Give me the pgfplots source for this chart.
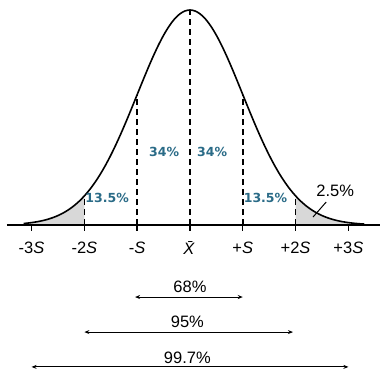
\documentclass[border=0pt]{standalone}
\usepackage{fontspec}
\setmainfont{Liberation Sans}
\newfontfamily\tealfont{DejaVu Sans}
\usepackage{pgfplots}
\pgfplotsset{compat=1.18}
\usetikzlibrary{arrows.meta}
\definecolor{teal1}{HTML}{2A6B87}
\definecolor{shade}{HTML}{D8D8D8}
\begin{document}
\begin{tikzpicture}
\begin{axis}[
  scale only axis, width=389pt, height=378pt,
  xmin=-3.598, xmax=3.769, ymin=-0.7116, ymax=1.0465,
  hide axis, clip=false,
]
\path (rel axis cs:0,0) rectangle (rel axis cs:1,1);
% shaded tails
\addplot[fill=shade, draw=none] coordinates {
(-3.15,0) (-3.15,0.0070) (-3.1,0.00819) (-3.0,0.01111) (-2.9,0.01492) (-2.8,0.01984) (-2.7,0.02612)
(-2.6,0.03405) (-2.5,0.04394) (-2.4,0.05613) (-2.3,0.07101) (-2.2,0.08892) (-2.1,0.11025) (-2.0,0.13534) (-2.0,0)
} -- cycle;
\addplot[fill=shade, draw=none] coordinates {
(2.0,0) (2.0,0.13534) (2.1,0.11025) (2.2,0.08892) (2.3,0.07101) (2.4,0.05613) (2.5,0.04394) (2.6,0.03405)
(2.7,0.02612) (2.8,0.01984) (2.9,0.01492) (3.0,0.01111) (3.1,0.00819) (3.2,0.00598) (3.3,0.00432) (3.3,0)
} -- cycle;
% curve
\addplot[black, line width=1.6pt, smooth] coordinates {
(-3.15,0.0070) (-3.1,0.00819) (-3.0,0.01111) (-2.9,0.01492) (-2.8,0.01984) (-2.7,0.02612) (-2.6,0.03405)
(-2.5,0.04394) (-2.4,0.05613) (-2.3,0.07101) (-2.2,0.08892) (-2.1,0.11025) (-2.0,0.13534) (-1.9,0.16447)
(-1.8,0.19790) (-1.7,0.23575) (-1.6,0.27804) (-1.5,0.32465) (-1.4,0.37531) (-1.3,0.42956) (-1.2,0.48675)
(-1.1,0.54607) (-1.0,0.60653) (-0.9,0.66698) (-0.8,0.72615) (-0.7,0.78270) (-0.6,0.83527) (-0.5,0.88250)
(-0.4,0.92312) (-0.3,0.95600) (-0.2,0.98020) (-0.1,0.99501) (0,1) (0.1,0.99501) (0.2,0.98020) (0.3,0.95600)
(0.4,0.92312) (0.5,0.88250) (0.6,0.83527) (0.7,0.78270) (0.8,0.72615) (0.9,0.66698) (1.0,0.60653)
(1.1,0.54607) (1.2,0.48675) (1.3,0.42956) (1.4,0.37531) (1.5,0.32465) (1.6,0.27804) (1.7,0.23575)
(1.8,0.19790) (1.9,0.16447) (2.0,0.13534) (2.1,0.11025) (2.2,0.08892) (2.3,0.07101) (2.4,0.05613)
(2.5,0.04394) (2.6,0.03405) (2.7,0.02612) (2.8,0.01984) (2.9,0.01492) (3.0,0.01111) (3.1,0.00819)
(3.2,0.00598) (3.3,0.00432)
};
% dashed lines
\pgfplotsset{dl/.style={black, line width=1.7pt, dash pattern=on 6pt off 4pt}}
\addplot[dl] coordinates {(-2,0) (-2,0.13534)};
\addplot[dl] coordinates {(-1,0) (-1,0.60653)};
\addplot[dl] coordinates {(0,0) (0,1)};
\addplot[dl] coordinates {(1,0) (1,0.60653)};
\addplot[dl] coordinates {(2,0) (2,0.13534)};
% baseline
\addplot[black, line width=1.6pt] coordinates {(-3.47,0) (3.6,0)};
% ticks
\addplot[black, line width=1.4pt] coordinates {(-3,0) (-3,-0.03)};
\addplot[black, line width=1.4pt] coordinates {(-2,0) (-2,-0.03)};
\addplot[black, line width=1.4pt] coordinates {(-1,0) (-1,-0.03)};
\addplot[black, line width=1.4pt] coordinates {(0,0) (0,-0.03)};
\addplot[black, line width=1.4pt] coordinates {(1,0) (1,-0.03)};
\addplot[black, line width=1.4pt] coordinates {(2,0) (2,-0.03)};
\addplot[black, line width=1.4pt] coordinates {(3,0) (3,-0.03)};
% tick labels
\begin{scope}[every node/.style={font=\fontsize{16.5}{18}\selectfont}]
\node at (axis cs:-3,-0.107) {-3\textit{S}};
\node at (axis cs:-2,-0.107) {-2\textit{S}};
\node at (axis cs:-1,-0.107) {-\textit{S}};
\node at (axis cs:0,-0.107) {\textit{\=X}};
\node at (axis cs:1,-0.107) {+\textit{S}};
\node at (axis cs:2,-0.107) {+2\textit{S}};
\node at (axis cs:3,-0.107) {+3\textit{S}};
\node at (axis cs:0,-0.288) {68\%};
\node at (axis cs:-0.05,-0.451) {95\%};
\node at (axis cs:-0.05,-0.619) {99.7\%};
\node at (axis cs:2.75,0.158) {2.5\%};
\end{scope}
% teal labels
\begin{scope}[every node/.style={font=\tealfont\bfseries\fontsize{12.5}{14}\selectfont, text=teal1, inner sep=0pt}]
\node at (axis cs:-1.57,0.126) {13.5\%};
\node at (axis cs:1.43,0.126) {13.5\%};
\node at (axis cs:-0.49,0.34) {34\%};
\node at (axis cs:0.42,0.34) {34\%};
\end{scope}
% leader
\addplot[black, line width=1pt] coordinates {(2.33,0.037) (2.58,0.107)};
% arrows
\pgfplotsset{ar/.style={black, line width=1pt, {Stealth[length=5pt,width=4pt]}-{Stealth[length=5pt,width=4pt]}}}
\addplot[ar] coordinates {(-1.04,-0.335) (1.0,-0.335)};
\addplot[ar] coordinates {(-2.0,-0.498) (1.95,-0.498)};
\addplot[ar] coordinates {(-3.0,-0.660) (3.0,-0.660)};
\end{axis}
\end{tikzpicture}
\end{document}
